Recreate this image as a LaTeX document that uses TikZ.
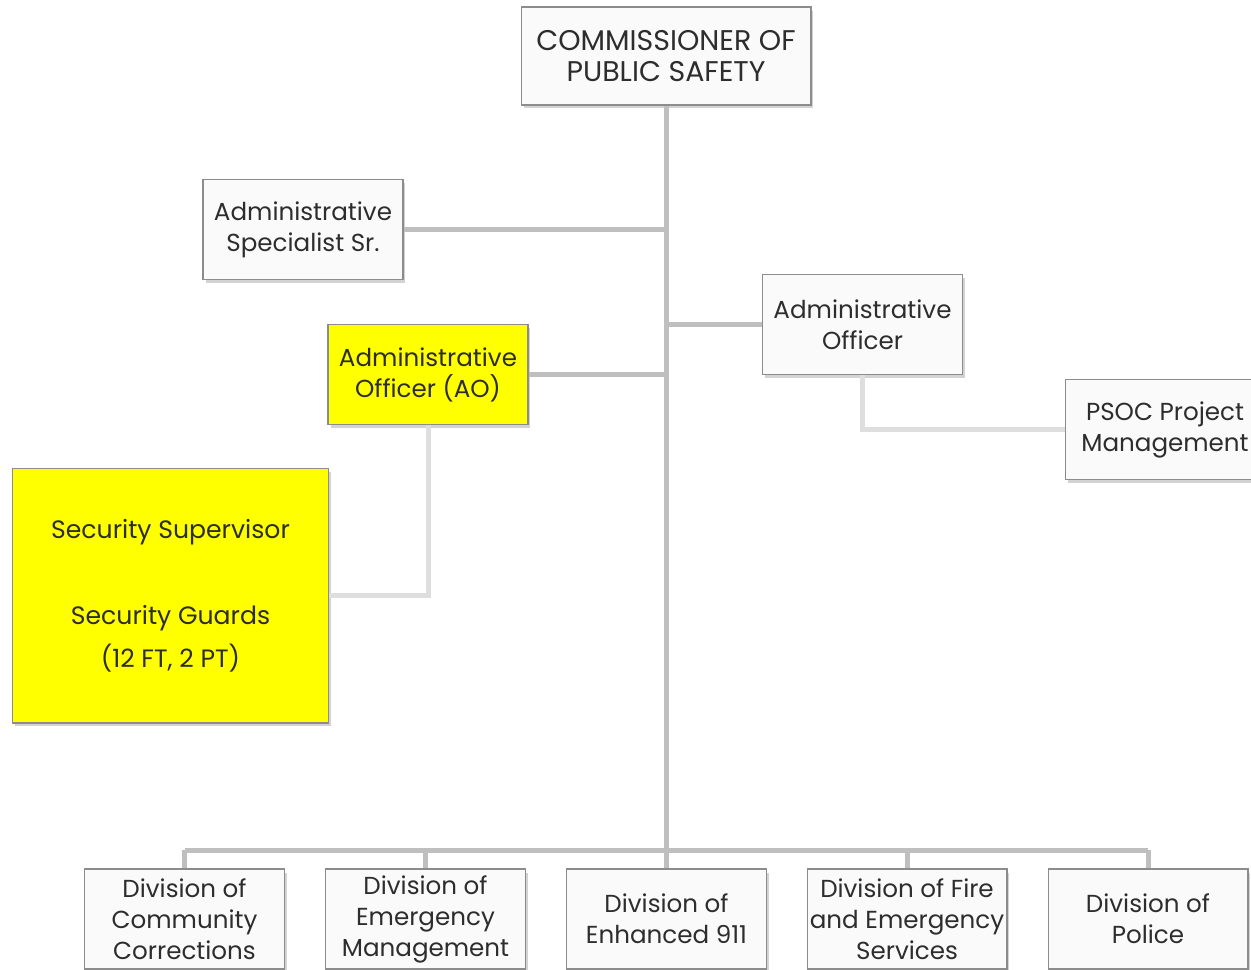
\documentclass[tikz,border=0pt]{standalone}
\usepackage{fontspec}
\setmainfont{Poppins}
\usetikzlibrary{shadows}

\definecolor{TextGray}{RGB}{45,45,45}
\definecolor{LinkGray}{RGB}{191,191,191}
\definecolor{SubGray}{RGB}{222,222,222}
\definecolor{BoxYellow}{RGB}{255,255,0}

\begin{document}
\begin{tikzpicture}[x=0.02cm,y=-0.02cm,
  box/.style={draw=gray!90, line width=0.6pt, fill=white!98!black, minimum width=4cm, minimum height=2cm,
    inner sep=1pt, align=center, text=TextGray, font=\fontsize{14}{17.6}\selectfont,
    drop shadow={shadow xshift=0.05cm, shadow yshift=-0.07cm, opacity=0.35}},
  ybox/.style={box, fill=BoxYellow},
  link/.style={LinkGray, line width=0.1cm},
  sublink/.style={SubGray, line width=0.1cm}]
\useasboundingbox (0,0) rectangle (1251,970);

% top and staff
\node[box, minimum width=5.8cm, minimum height=1.96cm, font=\fontsize{16.2}{17.6}\selectfont] (cps) at (666,56)
  {COMMISSIONER OF\\PUBLIC SAFETY};
\node[box] (spec) at (303,229.5) {Administrative\\Specialist Sr.};
\node[box] (ao) at (862.5,324.5) {Administrative\\Officer};
\node[ybox] (aoy) at (428,374.5) {Administrative\\Officer (AO)};
\node[box] (psoc) at (1165,429.5) {PSOC Project\\Management};
\node[ybox, minimum width=6.34cm, minimum height=5.1cm, font=\fontsize{14.3}{24.4}\selectfont] (sec) at (170.5,595.5)
  {Security Supervisor\\[24.4pt]Security Guards\\(12 FT, 2 PT)};

% divisions
\node[box] (d1) at (184.5,919) {Division of\\Community\\Corrections};
\node[box] (d2) at (425.5,919) {Division of\\Emergency\\Management};
\node[box] (d3) at (666.5,919) {Division of\\Enhanced 911};
\node[box] (d4) at (907,919) {Division of Fire\\and Emergency\\Services};
\node[box] (d5) at (1148,919) {Division of\\Police};

\coordinate (bar) at (666,850);

\draw[link] (cps.south) -- (bar);
\draw[link] (spec.east) -- (spec.east -| cps.south);
\draw[link] (ao.west) -- (ao.west -| cps.south);
\draw[link] (aoy.east) -- (aoy.east -| cps.south);
\draw[link] (d1.north |- bar) -- (d5.north |- bar);
\foreach \d in {d1,d2,d3,d4,d5}
  \draw[link] (\d.north) -- (\d.north |- bar);
\draw[sublink] (ao.south) |- (psoc.west);
\draw[sublink] (aoy.south) |- (sec.east);

\end{tikzpicture}
\end{document}
